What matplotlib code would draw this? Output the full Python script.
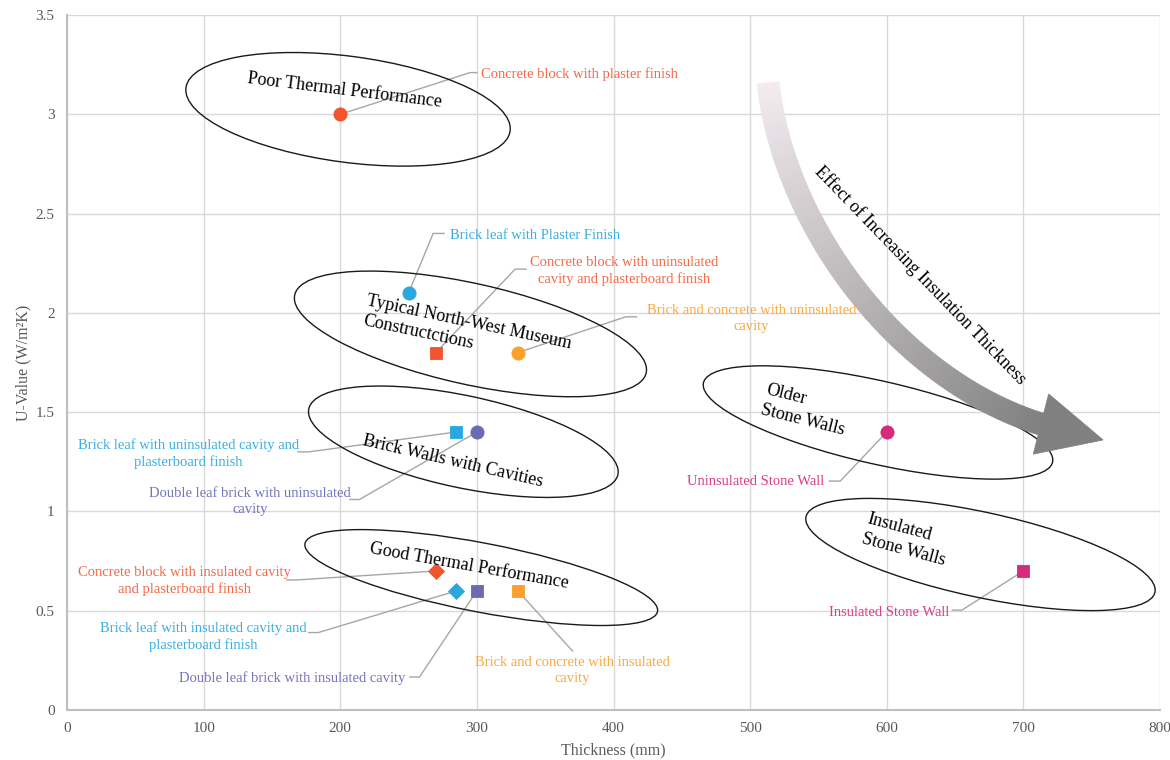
import numpy as np
import matplotlib
matplotlib.use('Agg')
import matplotlib.pyplot as plt
from matplotlib.patches import Ellipse, Polygon
import matplotlib.transforms as mtransforms

plt.rcParams['font.family'] = ['Liberation Serif', 'DejaVu Serif']

# ---- data: wall constructions -------------------------------------------
names = ["Concrete block with plaster finish",
         "Brick leaf with Plaster Finish",
         "Concrete block with uninsulated\ncavity and plasterboard finish",
         "Brick and concrete with uninsulated\ncavity",
         "Brick leaf with uninsulated cavity and\nplasterboard finish",
         "Double leaf brick with uninsulated\ncavity",
         "Concrete block with insulated cavity\nand plasterboard finish",
         "Brick leaf with insulated cavity and\nplasterboard finish",
         "Double leaf brick with insulated cavity",
         "Brick and concrete with insulated\ncavity",
         "Uninsulated Stone Wall",
         "Insulated Stone Wall"]
thickness = [200, 250, 270, 330, 285, 300, 270, 285, 300, 330, 600, 700]
u_value = [3.0, 2.1, 1.8, 1.8, 1.4, 1.4, 0.7, 0.6, 0.6, 0.6, 1.4, 0.7]
markers = ['o', 'o', 's', 'o', 's', 'o', 'D', 'D', 's', 's', 'o', 's']

red, blue, orange, purple, magenta = '#F2542D', '#29A8E0', '#F9A12C', '#6B6BB3', '#D52B7A'
red_t, blue_t, orange_t, purple_t, magenta_t = '#F4694A', '#3AB0E2', '#F9A93F', '#7474BD', '#DC3D88'
colours = [red, blue, red, orange, blue, purple, red, blue, purple, orange, magenta, magenta]
text_colours = [red_t, blue_t, red_t, orange_t, blue_t, purple_t, red_t, blue_t, purple_t,
                orange_t, magenta_t, magenta_t]

# label placement (data units) - text anchor, leader elbow, short horizontal stub end
label_x = [303, 280, 408, 501, 89, 134, 86, 100, 165, 370, 504, 602]
label_y = [3.20, 2.39, 2.21, 1.97, 1.29, 1.05, 0.65, 0.37, 0.16, 0.20, 1.15, 0.49]
label_ha = ['left', 'left'] + ['center'] * 10
elbow_x = [295, 268, 328, 409, 177, 214, 168, 184, 258, 370, 566, 655]
elbow_y = [3.21, 2.40, 2.22, 1.98, 1.30, 1.06, 0.655, 0.39, 0.166, 0.297, 1.153, 0.503]
stub_x = [300, 276, 336, 417, 169, 207, 161, 177, 251, None, 558, 648]

# grouping ellipses: centre (data), size in pixels, tilt
group_names = ["Poor Thermal Performance", "Typical North-West Museum\nConstructctions",
               "Brick Walls with Cavities", "Good Thermal Performance",
               "Older\nStone Walls", "Insulated\nStone Walls"]
ell_x = [205.7, 295.3, 290.1, 303.2, 593.6, 668.6]
ell_y = [3.025, 1.894, 1.351, 0.667, 1.448, 0.783]
ell_w = [327, 360, 316, 359, 358, 357]
ell_h = [106, 101, 92, 69, 83, 85]
ell_ang = [-7.6, -12.5, -12, -10.9, -12.8, -12.2]
grp_x = [203.5, 293.0, 282.5, 294.2, 540.2, 614.1]
grp_y = [3.122, 1.90, 1.254, 0.725, 1.511, 0.856]
grp_rot = [-7, -12, -13, -10, -14, -15]

# curved arrow (data units): bezier control points and tip
arrow_x = [513.1, 525.5, 609.7, 712.9]
arrow_y = [3.158, 2.417, 1.662, 1.440]
tip_x, tip_y = 758.3, 1.360

fig = plt.figure(figsize=(11.7, 7.6), dpi=100)
ax = fig.add_axes([67 / 1170, 50 / 760, 1093 / 1170, 695 / 760])
ax.set_xlim(0, 800)
ax.set_ylim(0, 3.5)
ax.set_xticks(np.arange(0, 801, 100))
ax.set_yticks(np.arange(0, 3.51, 0.5))
ax.set_yticklabels(['0', '0.5', '1', '1.5', '2', '2.5', '3', '3.5'])
ax.grid(True, color='#D9D9D9', linewidth=1)
ax.set_axisbelow(True)
for s in ['top', 'right']:
    ax.spines[s].set_visible(False)
for s in ['left', 'bottom']:
    ax.spines[s].set_color('#BFBFBF')
    ax.spines[s].set_linewidth(1.5)
ax.tick_params(length=0, colors='#595959', labelsize=11, pad=9)
ax.set_xlabel('Thickness (mm)', color='#595959', fontsize=11.5)
ax.set_ylabel('U-Value (W/m²K)', color='#595959', fontsize=11.5)
ax.xaxis.set_label_coords(0.5, -0.047)
ax.yaxis.set_label_coords(-0.033, 0.5)

# leaders and labels
for i in range(len(names)):
    xs = [thickness[i], elbow_x[i]]
    ys = [u_value[i], elbow_y[i]]
    if stub_x[i] is not None:
        xs.append(stub_x[i])
        ys.append(elbow_y[i])
    ax.plot(xs, ys, color='#A6A6A6', linewidth=1, zorder=2)
    ax.text(label_x[i], label_y[i], names[i], color=text_colours[i], fontsize=10.5,
            ha=label_ha[i], va='center', multialignment='center', linespacing=1.3, zorder=4)

# points
for i in range(len(names)):
    ms = 8.5 if markers[i] == 'D' else 9.5
    if markers[i] == 's':
        ms = 8.8
    ax.plot(thickness[i], u_value[i], marker=markers[i], color=colours[i], markersize=ms,
            markeredgewidth=0.6, markeredgecolor=colours[i], linestyle='none', zorder=5)

# grouping ellipses
for i in range(len(group_names)):
    tr = fig.dpi_scale_trans + mtransforms.ScaledTranslation(ell_x[i], ell_y[i], ax.transData)
    e = Ellipse((0, 0), ell_w[i] / 100, ell_h[i] / 100, angle=ell_ang[i], transform=tr,
                fill=False, edgecolor='#1A1A1A', linewidth=1.0, zorder=3)
    ax.add_patch(e)
    ax.text(grp_x[i], grp_y[i], group_names[i], fontsize=13, rotation=grp_rot[i],
            rotation_mode='anchor', ha='center', va='center', multialignment='left',
            linespacing=1.25, zorder=6)

# curved gradient arrow built in pixel space then mapped back to data
fig.canvas.draw()
pts = ax.transData.transform(np.column_stack([arrow_x, arrow_y]))
tip = ax.transData.transform([[tip_x, tip_y]])[0]
t = np.linspace(0, 1, 90)
b = ((1 - t) ** 3)[:, None] * pts[0] + (3 * (1 - t) ** 2 * t)[:, None] * pts[1] \
    + (3 * (1 - t) * t ** 2)[:, None] * pts[2] + (t ** 3)[:, None] * pts[3]
d = (-3 * (1 - t) ** 2)[:, None] * pts[0] + (3 * (1 - t) ** 2 - 6 * (1 - t) * t)[:, None] * pts[1] \
    + (6 * (1 - t) * t - 3 * t ** 2)[:, None] * pts[2] + (3 * t ** 2)[:, None] * pts[3]
d = d / np.linalg.norm(d, axis=1)[:, None]
n = np.column_stack([-d[:, 1], d[:, 0]])
half = 11
left = b + n * half
right = b - n * half
inv = ax.transData.inverted()
c0 = np.array([244, 236, 240]) / 255
c1 = np.array([128, 128, 128]) / 255
for k in range(len(t) - 1):
    quad = np.array([left[k], left[k + 1], right[k + 1], right[k]])
    col = c0 + (c1 - c0) * (t[k] + t[k + 1]) / 2
    ax.add_patch(Polygon(inv.transform(quad), closed=True, facecolor=col, edgecolor=col,
                         linewidth=0.6, zorder=3))
hd = tip - pts[3]
hd = hd / np.linalg.norm(hd)
hn = np.array([-hd[1], hd[0]])
head = np.array([pts[3] + hn * 31, tip, pts[3] - hn * 31])
ax.add_patch(Polygon(inv.transform(head), closed=True, facecolor='#808080',
                     edgecolor='#808080', linewidth=0.6, zorder=3))
ax.text(624.3, 2.191, 'Effect of Increasing Insulation Thickness', fontsize=13, rotation=-46,
        rotation_mode='anchor', ha='center', va='center', zorder=6)

fig.savefig('out.png', dpi=100)
